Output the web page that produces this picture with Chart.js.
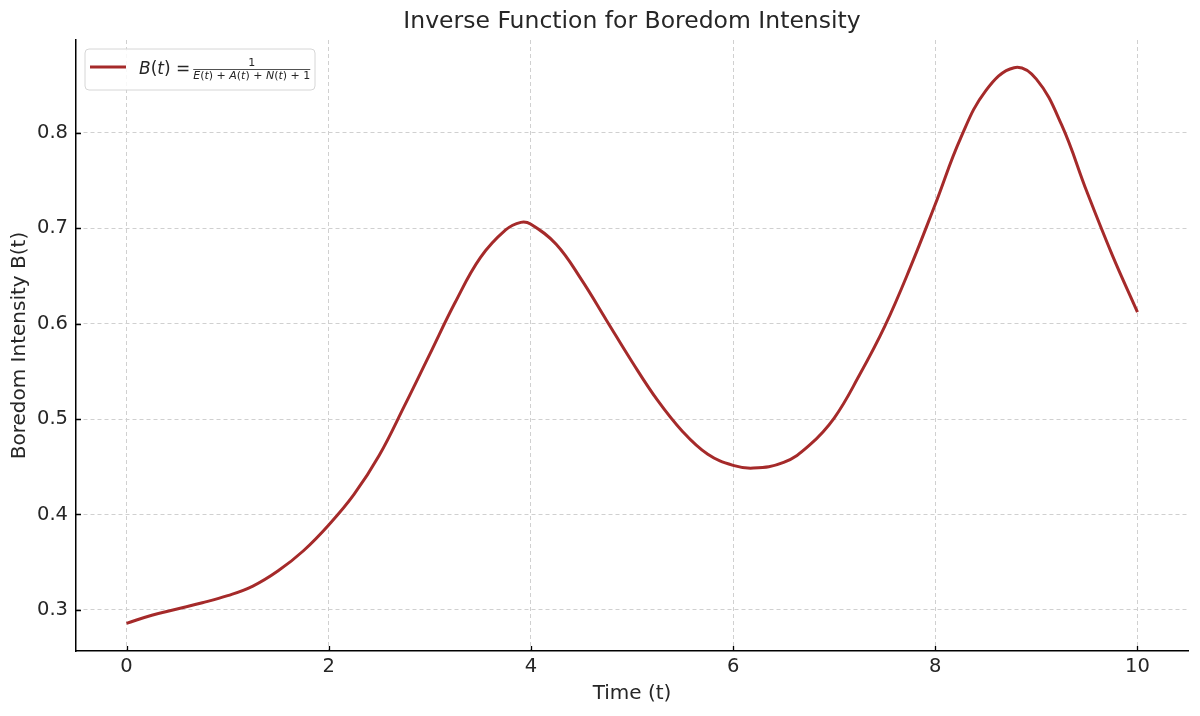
<!DOCTYPE html>
<html>
<head>
<meta charset="utf-8">
<script src="https://cdn.jsdelivr.net/npm/chart.js@4.4.0/dist/chart.umd.min.js"></script>
<style>
  html, body { margin: 0; padding: 0; background: #fff; }
  #wrap { width: 1200px; height: 716px; }
</style>
</head>
<body>
<div id="wrap"><canvas id="boredomChart"></canvas></div>
<script>
// Boredom intensity B(t) = 1 / (E(t) + A(t) + N(t) + 1)
// values
const timeValues = [0, 0.25, 0.5, 0.75, 1, 1.25, 1.5, 1.75, 2, 2.25, 2.5, 2.75, 3, 3.25, 3.5, 3.75, 3.9, 4,
  4.25, 4.5, 4.75, 5, 5.25, 5.5, 5.75, 6, 6.2, 6.5, 6.75, 7, 7.25, 7.5, 7.75, 8, 8.25, 8.5, 8.78, 9,
  9.25, 9.5, 9.75, 10];
const boredomValues = [0.286, 0.2945, 0.301, 0.3075, 0.315, 0.325, 0.341, 0.362, 0.389, 0.421, 0.462, 0.514,
  0.568, 0.622, 0.669, 0.698, 0.706, 0.704, 0.683, 0.646, 0.603, 0.560, 0.520, 0.487, 0.463, 0.4514,
  0.4486, 0.4545, 0.472, 0.501, 0.546, 0.597, 0.658, 0.725, 0.794, 0.844, 0.868, 0.856, 0.808, 0.738,
  0.672, 0.612];
const xTickValues = [0, 2, 4, 6, 8, 10];
const yTickValues = [0.3, 0.4, 0.5, 0.6, 0.7, 0.8];

const chartTitle = "Inverse Function for Boredom Intensity";
const xTitle = "Time (t)";
const yTitle = "Boredom Intensity B(t)";

const lineColor = "#a52a2a";
const fontFamily = "'DejaVu Sans', sans-serif";
const textColor = "#262626";

const points = timeValues.map((t, i) => ({ x: t, y: boredomValues[i] }));

// draw a run of math text, some parts italic
function drawMath(ctx, parts, x, y, size, doDraw) {
  let w = 0;
  parts.forEach(p => {
    ctx.font = (p[1] ? "italic " : "") + size + "px " + fontFamily;
    if (doDraw) ctx.fillText(p[0], x + w, y);
    w += ctx.measureText(p[0]).width;
  });
  return w;
}

const titlePlugin = {
  id: "plotTitle",
  afterDraw(chart) {
    const ctx = chart.ctx;
    const ca = chart.chartArea;
    ctx.save();
    ctx.fillStyle = textColor;
    ctx.font = "23.5px " + fontFamily;
    ctx.textAlign = "center";
    ctx.textBaseline = "middle";
    ctx.fillText(chartTitle, (ca.left + ca.right) / 2, 22);
    ctx.restore();
  }
};

// tick marks point inward, like the reference
const innerTicks = {
  id: "innerTicks",
  afterDatasetsDraw(chart) {
    const ctx = chart.ctx;
    const ca = chart.chartArea;
    const xs = chart.scales.x, ys = chart.scales.y;
    ctx.save();
    ctx.strokeStyle = "#000";
    ctx.lineWidth = 1.3;
    ctx.beginPath();
    xTickValues.forEach(v => {
      const px = Math.round(xs.getPixelForValue(v)) + 0.5;
      ctx.moveTo(px, ca.bottom);
      ctx.lineTo(px, ca.bottom - 5);
    });
    yTickValues.forEach(v => {
      const py = Math.round(ys.getPixelForValue(v)) + 0.5;
      ctx.moveTo(ca.left, py);
      ctx.lineTo(ca.left + 5, py);
    });
    ctx.stroke();
    ctx.restore();
  }
};

const mathLegend = {
  id: "mathLegend",
  afterDatasetsDraw(chart) {
    const ctx = chart.ctx;
    const ca = chart.chartArea;
    const bx = ca.left + 9, by = ca.top + 9, bw = 230, bh = 41;
    ctx.save();
    // frame
    ctx.beginPath();
    ctx.roundRect(bx, by, bw, bh, 4);
    ctx.fillStyle = "rgba(255,255,255,0.85)";
    ctx.fill();
    ctx.strokeStyle = "#d6d6d6";
    ctx.lineWidth = 1;
    ctx.stroke();
    // sample line
    ctx.beginPath();
    ctx.moveTo(bx + 5, by + 18);
    ctx.lineTo(bx + 41, by + 18);
    ctx.strokeStyle = lineColor;
    ctx.lineWidth = 3;
    ctx.stroke();
    // B(t) =
    ctx.fillStyle = textColor;
    ctx.textBaseline = "alphabetic";
    ctx.textAlign = "left";
    const lhs = [["B", true], ["(", false], ["t", true], [")", false], [" =", false]];
    const lw = drawMath(ctx, lhs, bx + 54, by + 24.5, 17, true);
    // fraction
    const fx0 = bx + 54 + lw + 3;
    const den = [["E", true], ["(", false], ["t", true], [")", false], [" + ", false],
      ["A", true], ["(", false], ["t", true], [")", false], [" + ", false],
      ["N", true], ["(", false], ["t", true], [")", false], [" + 1", false]];
    const dw = drawMath(ctx, den, 0, 0, 11, false);
    const nw = drawMath(ctx, [["1", false]], 0, 0, 11, false);
    drawMath(ctx, [["1", false]], fx0 + (dw - nw) / 2, by + 17, 11, true);
    drawMath(ctx, den, fx0, by + 30, 11, true);
    ctx.beginPath();
    ctx.moveTo(fx0, by + 20.5);
    ctx.lineTo(fx0 + dw, by + 20.5);
    ctx.strokeStyle = textColor;
    ctx.lineWidth = 0.8;
    ctx.stroke();
    ctx.restore();
  }
};

const ctx = document.getElementById("boredomChart").getContext("2d");

const chartConfig = {
  type: "line",
  data: {
    datasets: [{
      label: "B(t)",
      data: points,
      borderColor: lineColor,
      borderWidth: 3,
      pointRadius: 0,
      fill: false,
      tension: 0.4
    }]
  },
  options: {
    responsive: true,
    maintainAspectRatio: false,
    animation: false,
    layout: { padding: { top: 40, right: 12, left: 0, bottom: 0 } },
    plugins: {
      legend: { display: false },
      title: { display: false },
      tooltip: { enabled: false }
    },
    scales: {
      x: {
        type: "linear",
        min: -0.5,
        max: 10.5,
        afterBuildTicks: s => { s.ticks = xTickValues.map(v => ({ value: v })); },
        afterFit: s => { s.height = 65; },
        ticks: {
          color: textColor,
          font: { family: fontFamily, size: 19.5 },
          padding: 4,
          maxRotation: 0,
          callback: v => String(v)
        },
        grid: {
          color: "#d0d0d0",
          lineWidth: 1,
          drawTicks: false
        },
        border: { display: true, color: "#000", width: 1.5, dash: [4, 3] },
        title: {
          display: true,
          text: xTitle,
          color: textColor,
          font: { family: fontFamily, size: 20 },
          padding: { top: 4, bottom: 10 }
        }
      },
      y: {
        type: "linear",
        min: 0.257,
        max: 0.897,
        afterBuildTicks: s => { s.ticks = yTickValues.map(v => ({ value: v })); },
        afterFit: s => { s.width = 76; },
        ticks: {
          color: textColor,
          font: { family: fontFamily, size: 19.5 },
          padding: 8,
          callback: v => v.toFixed(1)
        },
        grid: {
          color: "#d0d0d0",
          lineWidth: 1,
          drawTicks: false
        },
        border: { display: true, color: "#000", width: 1.5, dash: [4, 3] },
        title: {
          display: true,
          text: yTitle,
          color: textColor,
          font: { family: fontFamily, size: 20 },
          padding: { top: 8, bottom: 4 }
        }
      }
    }
  },
  plugins: [titlePlugin, innerTicks, mathLegend]
};

const boredomChart = new Chart(ctx, chartConfig);
</script>
</body>
</html>
